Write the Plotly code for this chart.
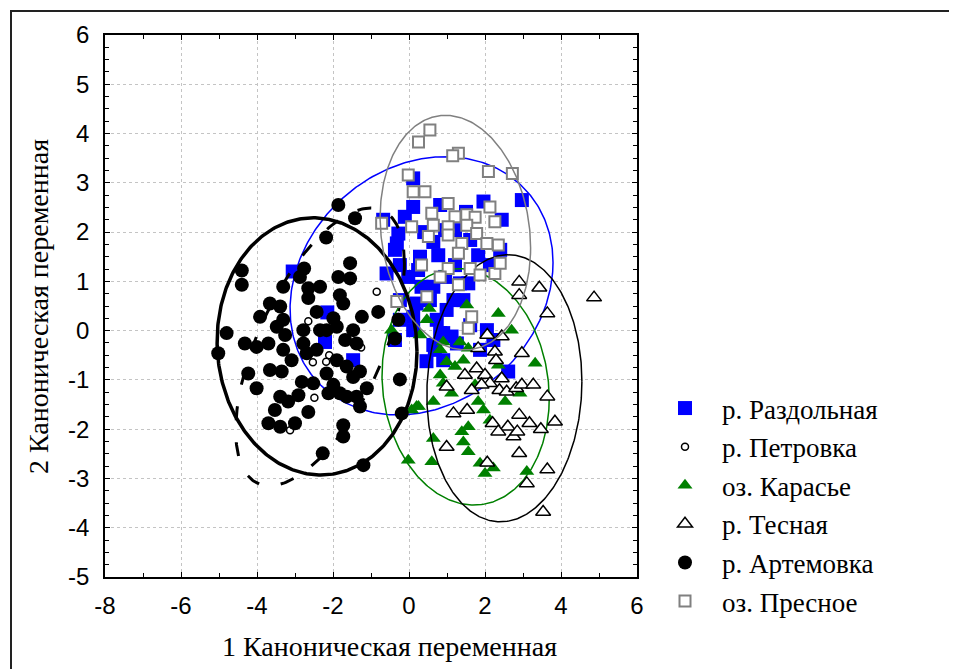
import numpy as np
import plotly.graph_objects as go

# ---------------- data ----------------
group_names = ["р. Раздольная", "р. Петровка", "оз. Карасье", "р. Тесная", "р. Артемовка", "оз. Пресное"]

razd_x = [2.97, 1.96, 2.44, 0.82, 0.11, 0.11, -0.11, -0.68, -0.28, -0.32,
          0.29, 0.77, 0.64, -0.59, -0.02, 0.33, 0.64, 0.95, 1.34, 1.56,
          1.82, 0.20, 0.11, 0.11, 0.73, 0.99, 1.17, 1.43, 0.90, 1.12,
          0.64, 2.05, 2.22, 1.26, 2.61, 0.68, 0.90, -3.06, -2.15, -1.47,
          -2.21, -0.37, -0.24, 0.40, 1.21, 1.61, 2.13, 2.40, 0.55, 1.61,
          1.87, -0.37, 1.50, 1.21, 0.95, -0.24, 0.24, -0.24, 0.46, 0.82]
razd_y = [2.65, 2.62, 2.25, 2.55, 2.51, 3.09, 2.31, 2.25, 1.97, 1.77,
          1.50, 1.53, 1.80, 1.16, 1.09, 0.89, 0.89, 1.09, 0.96, 0.96,
          1.53, 0.55, 0.28, 0.01, 0.22, 0.42, 0.62, 0.62, -0.05, -0.12,
          -0.29, 0.01, -0.19, -0.26, -0.83, -0.39, -0.60, 1.20, 0.37, -0.60,
          -0.23, -0.19, 0.62, 2.00, 2.04, 1.84, 1.33, 1.64, 0.62, 0.11,
          -0.39, 1.64, 2.41, 1.33, 2.04, 0.22, 1.23, 1.33, -0.62, -0.05]

petr_x = [-0.85, -2.65, -1.26, -2.10, -2.18, -2.53, -2.49, -3.13]
petr_y = [0.79, 0.19, -0.34, -0.50, -0.63, -0.64, -1.36, -2.02]

kar_x = [0.53, 0.47, 1.52, 2.35, 2.70, 0.29, 0.90, 1.34, 1.56, 0.99,
         1.21, 1.43, 0.82, 0.90, 1.12, 2.35, 3.32, 2.53, 0.64, 0.25,
         0.07, 1.82, 1.96, 1.39, 1.56, 1.43, 0.64, 1.56, -0.02, 0.60,
         1.87, 2.22, 2.00, 3.10, 2.92, 0.20, -0.46, 0.82, 1.74, 2.13]
kar_y = [0.45, 0.22, 0.52, 0.35, 0.01, -0.09, -0.23, -0.23, -0.36, -0.63,
         -0.73, -0.60, -0.90, -1.07, -1.27, -0.70, -0.66, -1.44, -1.44, -1.54,
         -1.61, -1.44, -1.61, -2.05, -1.95, -2.26, -2.19, -2.46, -2.63, -2.66,
         -2.69, -2.79, -2.90, -2.86, -1.27, -1.54, 0.01, -0.39, -1.10, -1.82]

tes_x = [2.90, 3.43, 2.90, 4.87, 3.64, 2.06, 2.44, 1.82, 2.26, 2.29,
         2.97, 1.78, 1.47, 2.00, 2.44, 2.13, 1.91, 0.99, 1.65, 2.38,
         2.57, 2.82, 2.97, 3.27, 3.64, 1.17, 1.53, 2.90, 3.17, 2.20,
         2.60, 2.35, 2.75, 2.85, 3.47, 3.84, 0.99, 2.90, 2.06, 3.64,
         3.10, 3.53]
tes_y = [0.99, 0.87, 0.72, 0.67, 0.35, -0.09, -0.12, -0.36, -0.43, -0.60,
         -0.46, -0.77, -0.90, -0.90, -0.97, -1.07, -1.10, -1.14, -1.21, -1.21,
         -1.24, -1.17, -1.10, -1.10, -1.34, -1.68, -1.61, -1.71, -1.88, -1.88,
         -1.95, -2.05, -2.15, -2.05, -2.00, -1.85, -2.36, -2.49, -2.68, -2.82,
         -3.10, -3.68]

art_x = [-1.86, -1.42, -2.18, -4.40, -4.40, -2.76, -2.87, -1.55, -1.86, -1.55,
         -3.31, -2.65, -2.34, -2.65, -1.82, -1.73, -3.66, -3.39, -3.92, -3.31,
         -2.43, -1.99, -1.24, -0.81, -4.80, -5.02, -4.32, -4.01, -3.70, -3.48,
         -3.26, -3.31, -3.09, -2.78, -2.78, -2.69, -2.43, -2.34, -2.17, -1.90,
         -1.68, -1.47, -1.38, -1.90, -1.64, -1.47, -1.29, -0.28, -0.37, -4.23,
         -3.66, -3.35, -4.01, -3.39, -3.18, -2.91, -2.82, -2.52, -2.17, -2.12,
         -1.99, -1.82, -1.64, -1.38, -1.29, -1.11, -0.24, -3.53, -3.70, -3.39,
         -3.00, -2.65, -1.73, -1.73, -2.27, -1.20, -0.19]
art_y = [2.55, 2.28, 1.89, 1.22, 0.93, 1.26, 1.09, 1.37, 1.09, 1.06,
         0.89, 0.86, 0.89, 0.66, 0.72, 0.55, 0.55, 0.49, 0.28, 0.22,
         0.38, 0.25, 0.28, 0.38, -0.05, -0.46, -0.26, -0.33, -0.26, 0.08,
         -0.09, -0.39, -0.60, 0.01, -0.26, -0.46, -0.39, 0.01, 0.01, 0.08,
         -0.19, 0.01, -0.26, -0.60, -0.73, -0.94, -0.83, 0.22, -0.16, -0.87,
         -0.80, -0.83, -1.17, -1.34, -1.44, -1.31, -1.04, -1.07, -0.87, -1.27,
         -1.10, -1.27, -1.34, -1.34, -1.54, -1.17, -0.99, -1.61, -1.88, -1.95,
         -1.88, -1.65, -1.92, -2.15, -2.49, -2.73, -1.68]

pres_x = [0.55, 0.25, 1.30, 1.15, -0.02, 2.09, 2.72, 0.11, 0.42, 1.03,
          2.13, 0.60, 1.21, 1.52, 1.74, 2.26, 0.64, 0.51, 1.52, 1.03,
          0.07, 1.03, 1.78, 2.35, 1.39, 2.05, 1.30, 0.33, 1.03, 1.61,
          1.87, 2.26, 2.40, 0.82, 1.30, 0.47, -0.32, -0.72, 1.65, 1.56]
pres_y = [4.07, 3.83, 3.60, 3.55, 3.16, 3.23, 3.19, 2.82, 2.82, 2.58,
          2.51, 2.38, 2.31, 2.35, 2.30, 2.21, 2.14, 1.91, 2.14, 2.11,
          2.11, 1.94, 1.97, 1.74, 1.77, 1.77, 1.57, 1.33, 1.26, 1.26,
          1.13, 1.16, 1.37, 1.09, 0.93, 0.69, 0.59, 2.18, 0.28, 0.05]

# ellipse parameters per group (centre, half-extent in x and y, correlation)
ell_cx = [0.33, -2.34, 1.49, 2.51, -2.42, 1.22]
ell_cy = [0.91, -0.33, -1.14, -1.17, -0.32, 1.99]
ell_hx = [3.46, 2.22, 2.20, 2.04, 2.63, 1.98]
ell_hy = [2.62, 2.82, 2.40, 2.71, 2.61, 2.38]
ell_rho = [0.18, 0.60, -0.10, 0.05, -0.04, -0.13]

x_ticks = [-8, -6, -4, -2, 0, 2, 4, 6]
y_ticks = [-5, -4, -3, -2, -1, 0, 1, 2, 3, 4, 5, 6]

# ---------------- styles ----------------
xs = [razd_x, petr_x, kar_x, tes_x, art_x, pres_x]
ys = [razd_y, petr_y, kar_y, tes_y, art_y, pres_y]
markers = [
    dict(symbol="square", size=14, color="#0000ff", line=dict(width=0)),
    dict(symbol="circle", size=7, color="white", line=dict(color="black", width=1.5)),
    dict(symbol="triangle-up", size=13, color="#008000", line=dict(width=0)),
    dict(symbol="triangle-up", size=13, color="white", line=dict(color="black", width=1.5)),
    dict(symbol="circle", size=14, color="black", line=dict(width=0)),
    dict(symbol="square", size=11, color="white", line=dict(color="#808080", width=2)),
]
ell_lines = [
    dict(color="#0000ff", width=1.5),
    dict(color="black", width=3, dash="14px,22px"),
    dict(color="#008000", width=1.5),
    dict(color="black", width=1.5),
    dict(color="black", width=3.5),
    dict(color="#808080", width=1.5),
]

fig = go.Figure()
t = np.linspace(0, 2 * np.pi, 361)
for i, name in enumerate(group_names):
    fig.add_trace(go.Scatter(x=xs[i], y=ys[i], mode="markers", name=name,
                             marker=markers[i], legendgroup=name, showlegend=True))
    ex = ell_cx[i] + ell_hx[i] * np.cos(t)
    ey = ell_cy[i] + ell_hy[i] * (ell_rho[i] * np.cos(t) + np.sqrt(1 - ell_rho[i] ** 2) * np.sin(t))
    fig.add_trace(go.Scatter(x=ex, y=ey, mode="lines", line=ell_lines[i],
                             hoverinfo="skip", showlegend=False, legendgroup=name))

# page has an 8px body margin; size the figure so the plot lands where the reference has it
OFF = 8
W, H = 957 - OFF, 669 - OFF
PL, PR, PT, PB = 105, 637, 35, 577          # plot area in page pixels
L, T = PL - OFF, PT - OFF
R, B = W - (PR - OFF), H - (PB - OFF)
pw, ph = PR - PL, PB - PT


def px_x(p):
    return (p - PL) / pw


def px_y(p):
    return (PB - p) / ph


axis_common = dict(
    showline=True, linecolor="black", linewidth=1.5, mirror="ticks",
    ticks="inside", tickcolor="black", ticklen=5, tickwidth=1,
    showgrid=True, gridcolor="#c4c4c4", gridwidth=1, griddash="dot",
    zeroline=False, automargin=False,
    tickfont=dict(family="Liberation Sans, Arial, sans-serif", size=24, color="black"),
)

fig.update_xaxes(range=[-8, 6], tickmode="array", tickvals=x_ticks,
                 ticktext=[str(v) for v in x_ticks],
                 minor=dict(dtick=1, tick0=0, ticks="inside", ticklen=4, tickcolor="black", showgrid=False),
                 ticklabelstandoff=6, **axis_common)
fig.update_yaxes(range=[-5, 6], tickmode="array", tickvals=y_ticks,
                 ticktext=[str(v) for v in y_ticks],
                 minor=dict(dtick=0.25, tick0=0, ticks="inside", ticklen=4, tickcolor="black", showgrid=False),
                 ticklabelstandoff=9, **axis_common)

serif = "Liberation Serif, Times New Roman, serif"
fig.update_layout(
    width=W, height=H,
    margin=dict(l=L, r=R, t=T, b=B, autoexpand=False),
    paper_bgcolor="white", plot_bgcolor="white",
    showlegend=True,
    legend=dict(x=px_x(648), xanchor="left", y=px_y(384), yanchor="top",
                font=dict(family=serif, size=27, color="black"),
                traceorder="grouped", tracegroupgap=0.5, itemwidth=64,
                bgcolor="rgba(0,0,0,0)", borderwidth=0),
    annotations=[
        dict(text="1 Каноническая переменная", xref="paper", yref="paper",
             x=px_x(389), y=px_y(646), xanchor="center", yanchor="middle",
             showarrow=False, font=dict(family=serif, size=28, color="black")),
        dict(text="2 Каноническая переменная", xref="paper", yref="paper",
             x=px_x(38), y=px_y(307), xanchor="center", yanchor="middle",
             textangle=-90, showarrow=False, font=dict(family=serif, size=28, color="black")),
    ],
    shapes=[
        dict(type="rect", xref="paper", yref="paper",
             x0=px_x(11), x1=px_x(1100), y0=px_y(800), y1=px_y(11),
             line=dict(color="#222222", width=2), fillcolor="rgba(0,0,0,0)", layer="below"),
    ],
)

fig.write_html("out.html")
